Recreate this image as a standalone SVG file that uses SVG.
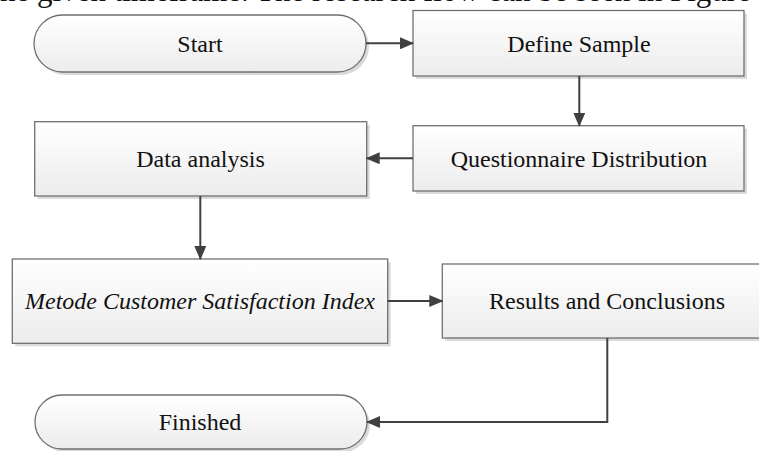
<svg xmlns="http://www.w3.org/2000/svg" width="759" height="451" viewBox="0 0 759 451">
<defs>
<linearGradient id="g" x1="0" y1="0" x2="0" y2="1">
<stop offset="0" stop-color="#ffffff"/>
<stop offset="1" stop-color="#ececec"/>
</linearGradient>
<marker id="ah" markerWidth="14" markerHeight="12" refX="13" refY="6" orient="auto" markerUnits="userSpaceOnUse">
<path d="M0,0 L14,6 L0,12 Z" fill="#404040"/>
</marker>
</defs>
<style>
.box{fill:url(#g);stroke:#707070;stroke-width:1.3}
.sh{fill:#dadada}
.t{font-size:24px;fill:#111;text-anchor:middle}
.i{font-style:italic}
.c{fill:none;stroke:#404040;stroke-width:2}
</style>
<rect width="759" height="451" fill="#ffffff"/>
<text x="0" y="0.5" font-family="Liberation Serif, Times New Roman, serif" font-size="31" fill="#111">he given timeframe. The research flow can be seen in Figure</text>
<g font-family="Liberation Serif, Times New Roman, serif">
<g id="start">
<rect class="sh" x="37" y="18" width="332" height="57" rx="28.5"/>
<rect class="box" x="34" y="15" width="332" height="57" rx="28.5"/>
<text class="t" x="200" y="52">Start</text>
</g>
<g id="define">
<rect class="sh" x="416" y="13.5" width="331" height="65.5"/>
<rect class="box" x="413" y="10.5" width="331" height="65.5"/>
<text class="t" x="579" y="52">Define Sample</text>
</g>
<g id="questionnaire">
<rect class="sh" x="416" y="128.7" width="331" height="65.3"/>
<rect class="box" x="413" y="125.7" width="331" height="65.3"/>
<text class="t" x="579" y="167">Questionnaire Distribution</text>
</g>
<g id="data">
<rect class="sh" x="37.7" y="124.7" width="332" height="74.3"/>
<rect class="box" x="34.7" y="121.7" width="332" height="74.3"/>
<text class="t" x="200.5" y="167">Data analysis</text>
</g>
<g id="metode">
<rect class="sh" x="15.3" y="262" width="375.4" height="84.3"/>
<rect class="box" x="12.3" y="259" width="375.4" height="84.3"/>
<text class="t i" x="200" y="309">Metode Customer Satisfaction Index</text>
</g>
<g id="results">
<rect class="sh" x="445.3" y="267" width="331" height="74"/>
<rect class="box" x="442.3" y="264" width="331" height="74"/>
<text class="t" x="607" y="309">Results and Conclusions</text>
</g>
<g id="finished">
<rect class="sh" x="38" y="398" width="332" height="54" rx="27"/>
<rect class="box" x="35" y="395" width="332" height="54" rx="27"/>
<text class="t" x="200" y="430">Finished</text>
</g>
</g>
<g id="connectors">
<path class="c" d="M366,43.3 L413,43.3" marker-end="url(#ah)"/>
<path class="c" d="M579.3,76 L579.3,125.7" marker-end="url(#ah)"/>
<path class="c" d="M413,158.3 L366.7,158.3" marker-end="url(#ah)"/>
<path class="c" d="M200.3,196 L200.3,259" marker-end="url(#ah)"/>
<path class="c" d="M387.7,301 L442.3,301" marker-end="url(#ah)"/>
<path class="c" d="M607.3,338 L607.3,422 L367,422" marker-end="url(#ah)"/>
</g>
</svg>
